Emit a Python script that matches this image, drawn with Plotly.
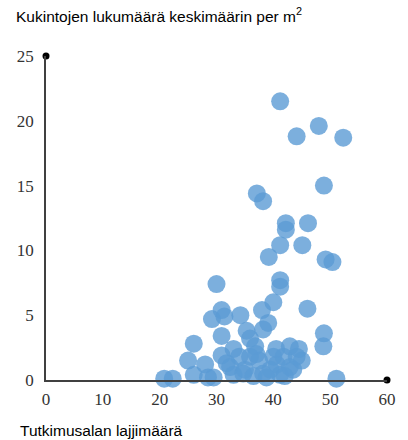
import plotly.graph_objects as go

species_count = [20.8, 22.3, 25.0, 26.0, 26.0, 28.0, 28.5, 29.2, 30.0, 30.9,
                 31.4, 30.9, 30.9, 31.8, 33.0, 32.4, 33.0, 34.2, 34.7, 35.3,
                 35.9, 35.9, 35.0, 36.8, 37.1, 38.2, 38.0, 39.1, 38.2, 39.2,
                 38.2, 38.8, 40.0, 40.0, 40.6, 41.2, 41.2, 41.2, 41.2, 41.2,
                 42.2, 42.2, 41.8, 42.9, 42.9, 43.5, 44.1, 44.1, 45.0, 45.1,
                 46.0, 46.1, 48.0, 48.9, 49.2, 50.4, 48.9, 48.8, 51.1, 52.3,
                 37.5, 39.5, 42.0, 36.5, 34.0, 29.5, 37.0, 40.5, 44.5]
flowers_per_m2 = [0.1, 0.1, 1.5, 2.8, 0.4, 1.2, 0.2, 4.7, 7.4, 5.4,
                  4.9, 3.4, 1.9, 1.3, 2.4, 1.0, 0.4, 5.0, 0.5, 3.8,
                  3.2, 1.8, 0.8, 2.6, 14.4, 13.8, 5.4, 4.4, 3.9, 9.5,
                  0.5, 0.2, 6.0, 1.8, 1.2, 0.4, 7.7, 7.2, 10.4, 21.5,
                  12.1, 11.6, 1.8, 2.6, 1.0, 0.8, 18.8, 1.8, 1.5, 10.4,
                  5.5, 12.1, 19.6, 15.0, 9.3, 9.1, 3.6, 2.6, 0.1, 18.7,
                  1.5, 0.8, 0.3, 0.3, 1.8, 0.2, 2.0, 2.4, 2.4]

x_ticks = [0, 10, 20, 30, 40, 50, 60]
y_ticks = [0, 5, 10, 15, 20, 25]
title_text = "Kukintojen lukumäärä keskimäärin per m<sup>2</sup>"
xlabel_text = "Tutkimusalan lajjimäärä"

fig = go.Figure()
fig.add_trace(go.Scatter(
    x=species_count, y=flowers_per_m2, mode="markers",
    marker=dict(size=18, color="#5b9bd5", opacity=0.8, line=dict(width=0)),
    cliponaxis=False, hoverinfo="skip"))
# axis end dots
fig.add_trace(go.Scatter(
    x=[0, 60], y=[25, 0], mode="markers",
    marker=dict(size=7, color="black"), cliponaxis=False, hoverinfo="skip"))

tickfont = dict(family="Liberation Serif, Times New Roman, serif", size=17, color="#333333")
fig.update_layout(
    width=408, height=440,
    margin=dict(l=46, r=21, t=56, b=60),
    plot_bgcolor="white", paper_bgcolor="white",
    showlegend=False,
    xaxis=dict(range=[0, 60], tickvals=x_ticks, showgrid=False, zeroline=False,
               showline=True, linecolor="#404040", linewidth=1.5,
               tickfont=tickfont, ticks="", ticklabelstandoff=3, fixedrange=True),
    yaxis=dict(range=[0, 25], tickvals=y_ticks, showgrid=False, zeroline=False,
               showline=True, linecolor="#404040", linewidth=1.5,
               tickfont=tickfont, ticks="", ticklabelstandoff=7, fixedrange=True),
    annotations=[
        dict(text=title_text, xref="paper", yref="paper", x=-0.094, y=1.128,
             xanchor="left", yanchor="middle", showarrow=False,
             font=dict(family="Liberation Sans, Arial, sans-serif", size=15.5, color="#000000")),
        dict(text=xlabel_text, xref="paper", yref="paper", x=-0.082, y=-0.157,
             xanchor="left", yanchor="middle", showarrow=False,
             font=dict(family="Liberation Sans, Arial, sans-serif", size=15.5, color="#000000")),
    ],
)
fig.write_html("out.html", config={"displayModeBar": False},
               post_script="document.body.style.margin='0';document.body.style.overflow='hidden';")
